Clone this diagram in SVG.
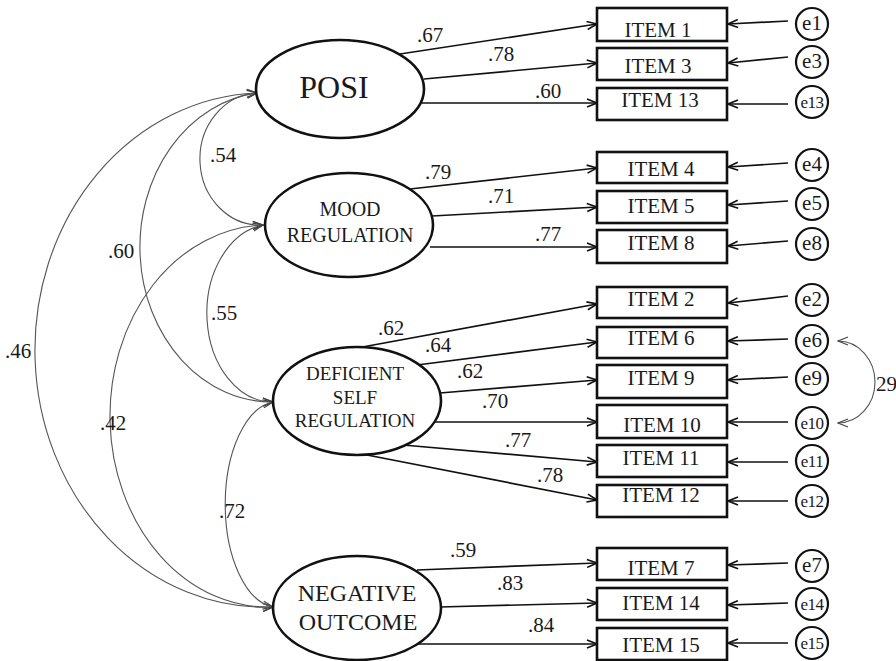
<svg xmlns="http://www.w3.org/2000/svg" width="896" height="661" viewBox="0 0 896 661">
<defs>
<marker id="ah" viewBox="0 0 12 10" refX="11" refY="5" markerWidth="12" markerHeight="10" markerUnits="userSpaceOnUse" orient="auto-start-reverse"><path d="M1,1 L11,5 L1,9" fill="none" stroke="#111" stroke-width="1.6"/></marker>
<marker id="ahg" viewBox="0 0 12 10" refX="11" refY="5" markerWidth="12" markerHeight="10" markerUnits="userSpaceOnUse" orient="auto-start-reverse"><path d="M1,1 L11,5 L1,9" fill="none" stroke="#444" stroke-width="1.2"/></marker>
</defs>
<style>
text{font-family:"Liberation Serif","Times New Roman",serif;fill:#1a1a1a}
.lat{fill:#fff;stroke:#111;stroke-width:2.6}
.box{fill:#fff;stroke:#111;stroke-width:2.6}
.err{fill:#fff;stroke:#111;stroke-width:2.2}
.load{fill:none;stroke:#111;stroke-width:1.7;marker-end:url(#ah)}
.cov{fill:none;stroke:#555;stroke-width:1.1;marker-start:url(#ahg);marker-end:url(#ahg)}
.it{font-size:21px;text-anchor:middle}
.el{font-size:21px;text-anchor:middle}
.es{font-size:17px;text-anchor:middle;letter-spacing:-0.5px}
.num{font-size:21px}
</style>
<rect width="896" height="661" fill="#fff"/>
<g id="connectors">
<path class="cov" d="M257,93 A60,66 0 0 0 263,225"/>
<path class="cov" d="M257,93 A132,155 0 0 0 273,402"/>
<path class="cov" d="M257,93 A230,257 0 0 0 273,607"/>
<path class="cov" d="M263,225 A66,89 0 0 0 273,402"/>
<path class="cov" d="M263,225 A158,191 0 0 0 273,607"/>
<path class="cov" d="M273,402 A53,103 0 0 0 273,607"/>
<path class="cov" d="M838,341 A37,41 0 0 1 838,423"/>
<line class="load" x1="400" y1="54" x2="597" y2="24"/>
<line class="load" x1="424" y1="79" x2="597" y2="63"/>
<line class="load" x1="422" y1="103" x2="597" y2="103"/>
<line class="load" x1="410" y1="189" x2="597" y2="168"/>
<line class="load" x1="432" y1="216" x2="597" y2="207"/>
<line class="load" x1="430" y1="247" x2="597" y2="247"/>
<line class="load" x1="357" y1="348" x2="597" y2="304"/>
<line class="load" x1="417" y1="365" x2="597" y2="342"/>
<line class="load" x1="440" y1="393" x2="597" y2="380"/>
<line class="load" x1="435" y1="422" x2="597" y2="422"/>
<line class="load" x1="403" y1="445" x2="597" y2="462"/>
<line class="load" x1="367" y1="455" x2="597" y2="500"/>
<line class="load" x1="417" y1="570" x2="597" y2="563"/>
<line class="load" x1="440" y1="607" x2="597" y2="603"/>
<line class="load" x1="418" y1="644" x2="597" y2="644"/>
<line class="load" x1="788" y1="21" x2="728" y2="24"/>
<line class="load" x1="788" y1="57" x2="728" y2="63"/>
<line class="load" x1="788" y1="104" x2="728" y2="104"/>
<line class="load" x1="788" y1="163" x2="728" y2="167"/>
<line class="load" x1="788" y1="201" x2="728" y2="205"/>
<line class="load" x1="788" y1="241" x2="728" y2="246"/>
<line class="load" x1="788" y1="296" x2="728" y2="303"/>
<line class="load" x1="788" y1="339" x2="728" y2="341"/>
<line class="load" x1="788" y1="377" x2="728" y2="380"/>
<line class="load" x1="788" y1="422" x2="728" y2="422"/>
<line class="load" x1="788" y1="462" x2="728" y2="462"/>
<line class="load" x1="788" y1="501" x2="728" y2="501"/>
<line class="load" x1="788" y1="563" x2="728" y2="565"/>
<line class="load" x1="788" y1="603" x2="728" y2="605"/>
<line class="load" x1="788" y1="643" x2="728" y2="643"/>
<g class="num">
<text x="417" y="42">.67</text>
<text x="488" y="61">.78</text>
<text x="535" y="98">.60</text>
<text x="425" y="179">.79</text>
<text x="488" y="203">.71</text>
<text x="535" y="241">.77</text>
<text x="378" y="335">.62</text>
<text x="425" y="352">.64</text>
<text x="457" y="378">.62</text>
<text x="482" y="408">.70</text>
<text x="505" y="447">.77</text>
<text x="537" y="482">.78</text>
<text x="450" y="557">.59</text>
<text x="497" y="590">.83</text>
<text x="528" y="632">.84</text>
<text x="210" y="162">.54</text>
<text x="108" y="258">.60</text>
<text x="5" y="358">.46</text>
<text x="211" y="320">.55</text>
<text x="100" y="430">.42</text>
<text x="219" y="518">.72</text>
<text x="876" y="391">29</text>
</g>
</g>
<g id="posi"><ellipse class="lat" cx="340" cy="89" rx="84" ry="49"/><text x="334" y="98" style="font-size:32px;text-anchor:middle">POSI</text></g>
<g id="mood"><ellipse class="lat" cx="349" cy="225" rx="84" ry="52"/><text x="350" y="216" style="font-size:20px;text-anchor:middle">MOOD</text><text x="350" y="242" style="font-size:20px;text-anchor:middle">REGULATION</text></g>
<g id="dsr"><ellipse class="lat" cx="357" cy="401" rx="84" ry="54"/><text x="355" y="380" style="font-size:19px;text-anchor:middle">DEFICIENT</text><text x="355" y="404" style="font-size:19px;text-anchor:middle">SELF</text><text x="355" y="427" style="font-size:19px;text-anchor:middle">REGULATION</text></g>
<g id="neg"><ellipse class="lat" cx="357" cy="608" rx="84" ry="52"/><text x="357" y="601" style="font-size:24px;text-anchor:middle">NEGATIVE</text><text x="358" y="630" style="font-size:24px;text-anchor:middle">OUTCOME</text></g>
<g id="item1"><rect class="box" x="597" y="8" width="130" height="33"/><text class="it" x="658" y="37">ITEM 1</text></g>
<g id="item3"><rect class="box" x="597" y="48" width="130" height="32"/><text class="it" x="658" y="73">ITEM 3</text></g>
<g id="item13"><rect class="box" x="597" y="88" width="130" height="32"/><text class="it" x="660" y="107">ITEM 13</text></g>
<g id="item4"><rect class="box" x="597" y="152" width="130" height="31"/><text class="it" x="661" y="176">ITEM 4</text></g>
<g id="item5"><rect class="box" x="597" y="191" width="130" height="32"/><text class="it" x="661" y="213">ITEM 5</text></g>
<g id="item8"><rect class="box" x="597" y="230" width="130" height="33"/><text class="it" x="661" y="250">ITEM 8</text></g>
<g id="item2"><rect class="box" x="597" y="287" width="130" height="31"/><text class="it" x="661" y="306">ITEM 2</text></g>
<g id="item6"><rect class="box" x="597" y="327" width="130" height="31"/><text class="it" x="661" y="345">ITEM 6</text></g>
<g id="item9"><rect class="box" x="597" y="365" width="130" height="33"/><text class="it" x="661" y="385">ITEM 9</text></g>
<g id="item10"><rect class="box" x="597" y="405" width="130" height="33"/><text class="it" x="662" y="432">ITEM 10</text></g>
<g id="item11"><rect class="box" x="597" y="445" width="130" height="32"/><text class="it" x="661" y="465">ITEM 11</text></g>
<g id="item12"><rect class="box" x="597" y="485" width="130" height="32"/><text class="it" x="661" y="502">ITEM 12</text></g>
<g id="item7"><rect class="box" x="597" y="548" width="130" height="32"/><text class="it" x="661" y="575">ITEM 7</text></g>
<g id="item14"><rect class="box" x="597" y="588" width="130" height="32"/><text class="it" x="661" y="610">ITEM 14</text></g>
<g id="item15"><rect class="box" x="597" y="628" width="130" height="32"/><text class="it" x="661" y="652">ITEM 15</text></g>
<g id="e1"><circle class="err" cx="812" cy="24" r="16"/><text class="el" x="812" y="30">e1</text></g>
<g id="e3"><circle class="err" cx="812" cy="62" r="16"/><text class="el" x="812" y="68">e3</text></g>
<g id="e13"><circle class="err" cx="812" cy="102" r="16"/><text class="es" x="812" y="108">e13</text></g>
<g id="e4"><circle class="err" cx="812" cy="165" r="16"/><text class="el" x="812" y="171">e4</text></g>
<g id="e5"><circle class="err" cx="812" cy="204" r="16"/><text class="el" x="812" y="210">e5</text></g>
<g id="e8"><circle class="err" cx="812" cy="244" r="16"/><text class="el" x="812" y="250">e8</text></g>
<g id="e2"><circle class="err" cx="812" cy="300" r="16"/><text class="el" x="812" y="306">e2</text></g>
<g id="e6"><circle class="err" cx="812" cy="341" r="16"/><text class="el" x="812" y="347">e6</text></g>
<g id="e9"><circle class="err" cx="812" cy="379" r="16"/><text class="el" x="812" y="385">e9</text></g>
<g id="e10"><circle class="err" cx="812" cy="423" r="16"/><text class="es" x="812" y="429">e10</text></g>
<g id="e11"><circle class="err" cx="812" cy="461" r="16"/><text class="es" x="812" y="467">e11</text></g>
<g id="e12"><circle class="err" cx="812" cy="501" r="16"/><text class="es" x="812" y="507">e12</text></g>
<g id="e7"><circle class="err" cx="812" cy="566" r="16"/><text class="el" x="812" y="572">e7</text></g>
<g id="e14"><circle class="err" cx="812" cy="604" r="16"/><text class="es" x="812" y="610">e14</text></g>
<g id="e15"><circle class="err" cx="812" cy="643" r="16"/><text class="es" x="812" y="649">e15</text></g>
</svg>
